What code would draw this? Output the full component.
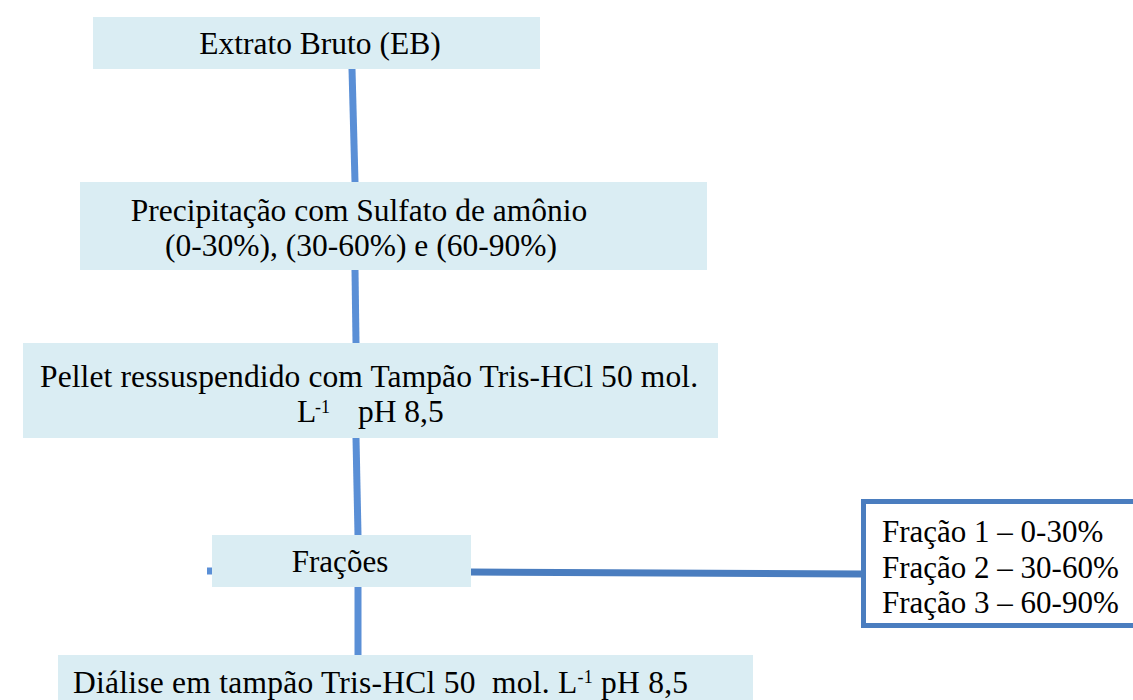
import React from "react";

const W = 1133;
const H = 700;

// Flowchart content
const stepLabels = [
  ["Extrato Bruto (EB)"],
  ["Precipitação com Sulfato de amônio", "(0-30%), (30-60%) e (60-90%)"],
  ["Pellet ressuspendido com Tampão Tris-HCl 50 mol."],
  ["Frações"],
];
const fractionLabels = ["Fração 1 – 0-30%", "Fração 2 – 30-60%", "Fração 3 – 60-90%"];

const FILL = "#daedf3";
const LINE = "#5a8fd6";
const DARK = "#4a7dbf";
const FONT = "Liberation Serif, Times New Roman, Times, serif";
const FS = 31.5;

export default function App() {
  return (
    <svg width={W} height={H} style={{ position: "absolute", left: 0, top: 0, background: "#fff", fontFamily: FONT }}
      fontSize={FS} fill="#000">
      {/* connectors */}
      <line x1={352} y1={69} x2={355} y2={182} stroke={LINE} strokeWidth={7} />
      <line x1={355} y1={270} x2={356} y2={343} stroke={LINE} strokeWidth={7} />
      <line x1={356} y1={438} x2={358} y2={535} stroke={LINE} strokeWidth={7} />
      <line x1={358} y1={587} x2={358} y2={655} stroke={LINE} strokeWidth={7} />
      <line x1={207} y1={571} x2={213} y2={571} stroke={LINE} strokeWidth={7} />
      <line x1={470} y1={572} x2={862} y2={574} stroke={DARK} strokeWidth={7} />

      {/* box 1 */}
      <rect x={93} y={17} width={447} height={52} fill={FILL} />
      <text x={320} y={54} textAnchor="middle">{stepLabels[0][0]}</text>

      {/* box 2 */}
      <rect x={80} y={182} width={627} height={88} fill={FILL} />
      <text x={359} y={221} textAnchor="middle">{stepLabels[1][0]}</text>
      <text x={361} y={256} textAnchor="middle">{stepLabels[1][1]}</text>

      {/* box 3 */}
      <rect x={23} y={343} width={695} height={95} fill={FILL} />
      <text x={40} y={387} textLength={658} lengthAdjust="spacing">{stepLabels[2][0]}</text>
      <text x={297} y={422}>L</text>
      <text x={315} y={413} fontSize={18}>-1</text>
      <text x={358} y={422}>pH 8,5</text>

      {/* box 4 */}
      <rect x={212} y={535} width={259} height={52} fill={FILL} />
      <text x={340} y={572} textAnchor="middle" fontSize={31}>{stepLabels[3][0]}</text>

      {/* fractions box */}
      <rect x={863.5} y={501.5} width={300} height={124} fill="#fff" stroke={DARK} strokeWidth={5} />
      {fractionLabels.map((t, i) => (
        <text key={t} x={882} y={542 + i * 35.5} fontSize={31}>{t}</text>
      ))}

      {/* box 5 */}
      <rect x={58} y={655} width={695} height={50} fill={FILL} />
      <text x={73} y={693} letterSpacing={0.25}>
        <tspan>{"Diálise em tampão Tris-HCl 50\u00A0 mol. L"}</tspan>
        <tspan fontSize={18} dy={-10}>-1</tspan>
        <tspan dy={10}>{" pH 8,5"}</tspan>
      </text>
    </svg>
  );
}
